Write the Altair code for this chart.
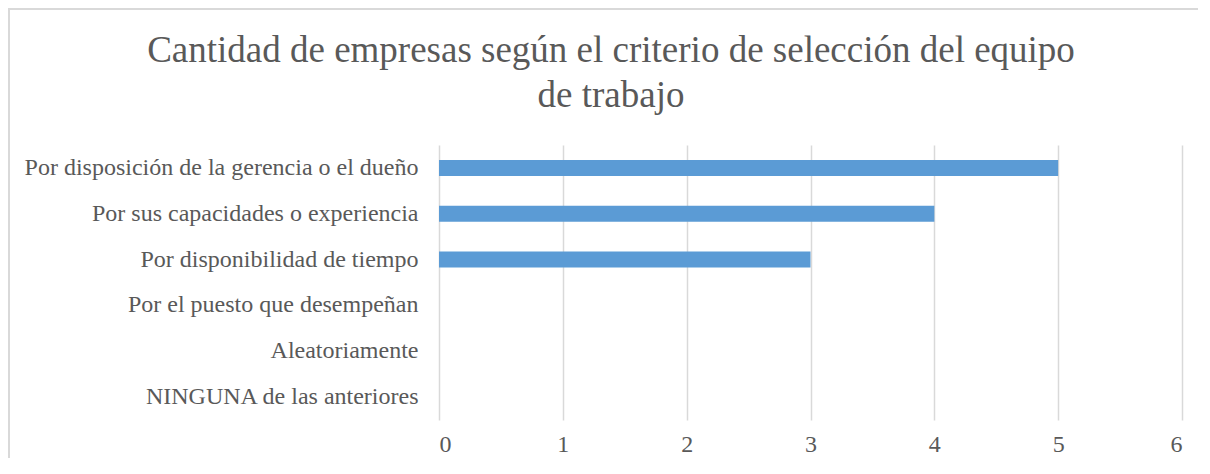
import altair as alt
import pandas as pd

categories = [
    "Por disposición de la gerencia o el dueño",
    "Por sus capacidades o experiencia",
    "Por disponibilidad de tiempo",
    "Por el puesto que desempeñan",
    "Aleatoriamente",
    "NINGUNA de las anteriores",
]
values = [5, 4, 3, 0, 0, 0]
x_ticks = [0, 1, 2, 3, 4, 5, 6]
title_lines = ["Cantidad de empresas según el criterio de selección del equipo", "de trabajo"]

df = pd.DataFrame({"criterio": categories, "cantidad": values})

FONT = "Liberation Serif"
TXT = "#595959"

bars = alt.Chart(df).mark_bar(size=16, color="#5B9BD5").encode(
    x=alt.X("cantidad:Q", scale=alt.Scale(domain=[0, 6], nice=False),
            axis=alt.Axis(values=x_ticks, title=None, domain=False, ticks=False,
                          grid=True, gridColor="#d9d9d9", gridWidth=1.5,
                          labelFont=FONT, labelFontSize=24, labelColor=TXT,
                          labelPadding=12)),
    y=alt.Y("criterio:N", sort=categories,
            axis=alt.Axis(title=None, domain=False, ticks=False, grid=False,
                          labelFont=FONT, labelFontSize=24, labelColor=TXT,
                          labelPadding=21, labelLimit=600)),
)

border = alt.Chart(pd.DataFrame({"k": [0]})).mark_rect(
    fill="white", fillOpacity=0, stroke="#d9d9d9", strokeWidth=2, clip=False
).encode(
    x=alt.value(-430), x2=alt.value(820), y=alt.value(-136), y2=alt.value(400)
)

t1 = alt.Chart(pd.DataFrame({"t": [title_lines[0]]})).mark_text(
    font=FONT, fontSize=37, color=TXT, align="center", baseline="alphabetic"
).encode(text="t:N", x=alt.value(172), y=alt.value(-83))
t2 = alt.Chart(pd.DataFrame({"t": [title_lines[1]]})).mark_text(
    font=FONT, fontSize=37, color=TXT, align="center", baseline="alphabetic"
).encode(text="t:N", x=alt.value(172), y=alt.value(-38))

chart = alt.layer(border, bars, t1, t2).properties(
    width=743,
    height=275,
    autosize=alt.AutoSizeParams(type="none"),
    padding={"left": 431, "top": 137, "right": 16, "bottom": 38},
    background="white",
).configure_view(stroke=None)

chart.save("out.html", embed_options={"renderer": "svg", "actions": False})
